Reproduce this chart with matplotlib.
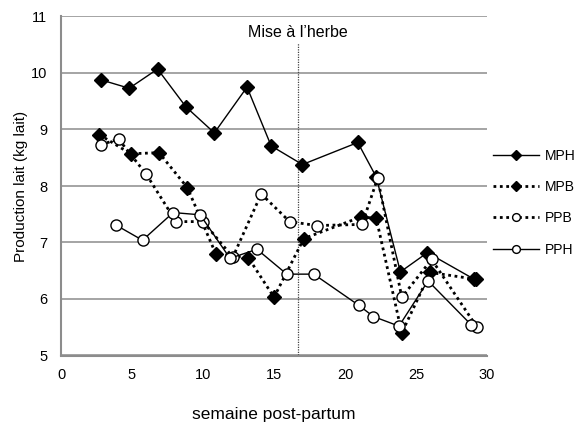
import matplotlib
matplotlib.use("Agg")
import matplotlib.pyplot as plt

plt.rcParams['font.family'] = ['Liberation Sans', 'DejaVu Sans']

# Data
mph_x = [2.8, 4.8, 6.8, 8.8, 10.8, 13.1, 14.8, 17.0, 20.9, 22.2, 23.9, 25.8, 29.1]
mph_y = [9.88, 9.73, 10.07, 9.40, 8.94, 9.75, 8.71, 8.38, 8.77, 8.16, 6.48, 6.82, 6.35]

mpb_x = [2.7, 4.9, 6.9, 8.9, 10.9, 13.2, 15.0, 17.1, 21.1, 22.2, 24.0, 26.0, 29.2]
mpb_y = [8.91, 8.57, 8.59, 7.97, 6.80, 6.73, 6.03, 7.07, 7.45, 7.43, 5.40, 6.47, 6.35]

ppb_x = [2.8, 4.05, 6.0, 8.1, 10.0, 12.1, 14.1, 16.1, 18.0, 21.2, 22.3, 24.0, 26.1, 29.3]
ppb_y = [8.73, 8.83, 8.21, 7.37, 7.37, 6.74, 7.86, 7.37, 7.30, 7.32, 8.14, 6.03, 6.70, 5.50]

pph_x = [3.86, 5.74, 7.9, 9.8, 11.9, 13.8, 15.9, 17.8, 20.96, 22.0, 23.8, 25.85, 28.9]
pph_y = [7.31, 7.04, 7.53, 7.49, 6.72, 6.88, 6.44, 6.44, 5.89, 5.69, 5.52, 6.32, 5.54]

event_x = 16.7
event_label = "Mise à l’herbe"

fig = plt.figure(figsize=(5.81, 4.23), dpi=100)
ax = fig.add_axes([61/581, 1-355.5/423, (487-61)/581, (355.5-16.5)/423])

ax.set_xlim(0, 30)
ax.set_ylim(5, 11)
ax.set_xticks(range(0, 31, 5))
ax.set_yticks(range(5, 12))
ax.yaxis.grid(True, color='#8c8c8c', lw=1.1)
ax.set_axisbelow(True)
for s in ['top', 'right']:
    ax.spines[s].set_visible(False)
for s in ['left', 'bottom']:
    ax.spines[s].set_color('#8c8c8c')
    ax.spines[s].set_linewidth(1.5)
ax.tick_params(length=0, labelsize=10.5, pad=9)
ax.tick_params(axis='y', pad=10)

ax.plot([event_x, event_x], [5, 10.53], color='#444444', lw=0.9, ls=(0, (1, 1)), zorder=1)
ax.text(event_x, 10.72, event_label, ha='center', va='center', fontsize=11.5)

ax.plot(mph_x, mph_y, color='black', lw=1, marker='D', ms=7.5, mfc='black', mec='black', label='MPH', zorder=3)
ax.plot(mpb_x, mpb_y, color='black', lw=2, ls=(0, (1, 1.3)), marker='D', ms=7.5, mfc='black', mec='black', label='MPB', zorder=3)
ax.plot(ppb_x, ppb_y, color='black', lw=2, ls=(0, (1, 1.3)), marker='o', ms=8, mfc='white', mec='black', mew=1, label='PPB', zorder=4)
ax.plot(pph_x, pph_y, color='black', lw=1, marker='o', ms=8, mfc='white', mec='black', mew=1, label='PPH', zorder=4)

ax.set_xlabel('semaine post-partum', fontsize=12.5, labelpad=18)
ax.set_ylabel('Production lait (kg lait)', fontsize=11, labelpad=2)

leg = ax.legend(loc='upper left', bbox_to_anchor=(493/581, 1-148.5/423), bbox_transform=fig.transFigure,
                frameon=False, fontsize=10, handlelength=3.3, handletextpad=0.4, labelspacing=1.25,
                markerscale=0.7, borderpad=0, borderaxespad=0)

fig.savefig('out.png', dpi=100)
